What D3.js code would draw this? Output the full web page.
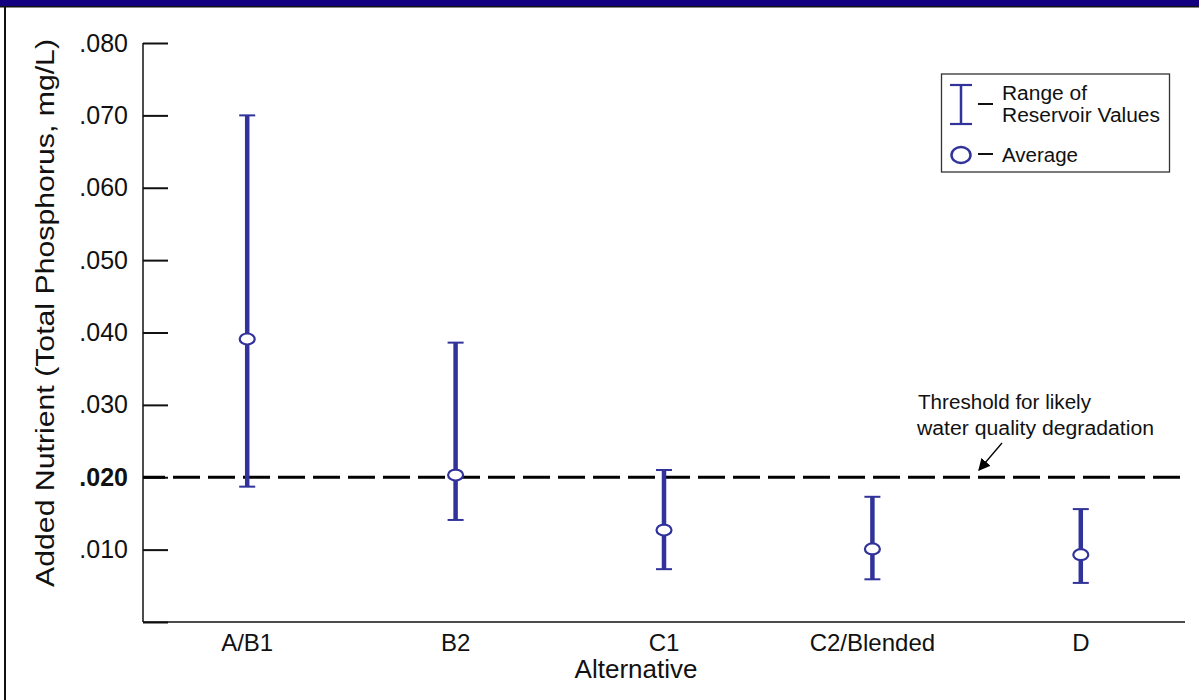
<!DOCTYPE html>
<html>
<head>
<meta charset="utf-8">
<script src="https://cdn.jsdelivr.net/npm/d3@7"></script>
<style>
  body { margin: 0; background: #fff; }
  text { font-family: "Liberation Sans", Arial, sans-serif; fill: #111; }
</style>
</head>
<body>
<div id="chart"></div>
<script>
// values
const categories = ["A/B1", "B2", "C1", "C2/Blended", "D"];
const maxValues = [0.0700, 0.0386, 0.0210, 0.0173, 0.0156];
const minValues = [0.0187, 0.0141, 0.0073, 0.0059, 0.0054];
const avgValues = [0.0391, 0.0203, 0.0127, 0.0101, 0.0093];
const threshold = 0.020;
const yTickValues = [0, 0.01, 0.02, 0.03, 0.04, 0.05, 0.06, 0.07, 0.08];
const yTickLabels = ["", ".010", ".020", ".030", ".040", ".050", ".060", ".070", ".080"];

const rows = categories.map((c, i) => ({
  cat: c, max: maxValues[i], min: minValues[i], avg: avgValues[i]
}));

const width = 1199, height = 700;
const blue = "#31339a";
const margin = { left: 143, right: 14, top: 43, bottom: 78 };

const svg = d3.select("#chart").append("svg")
  .attr("width", width)
  .attr("height", height);

// frame: navy band on top, black rule on the left
svg.append("rect").attr("x", 0).attr("y", 0).attr("width", width).attr("height", 6).attr("fill", "#130080");
svg.append("rect").attr("x", 0).attr("y", 6).attr("width", width).attr("height", 1.5).attr("fill", "#111");
svg.append("rect").attr("x", 4).attr("y", 6).attr("width", 2).attr("height", height).attr("fill", "#111");

const x = d3.scaleBand()
  .domain(categories)
  .range([margin.left, width - margin.right])
  .padding(0);

const y = d3.scaleLinear()
  .domain([0, 0.08])
  .range([height - margin.bottom, margin.top]);

// y axis, ticks pointing inward
const yAxis = d3.axisLeft(y)
  .tickValues(yTickValues)
  .tickFormat((d, i) => yTickLabels[i])
  .tickSize(-25)
  .tickPadding(15);

const yAxisG = svg.append("g")
  .attr("transform", `translate(${margin.left},0)`)
  .call(yAxis);
yAxisG.select(".domain").remove();
yAxisG.selectAll(".tick line").attr("stroke", "#111").attr("stroke-width", 2);
yAxisG.selectAll(".tick text")
  .style("font-size", "25px")
  .style("font-family", "'Liberation Sans', Arial, sans-serif")
  .attr("fill", "#111")
  .style("font-weight", d => d === threshold ? "bold" : "normal");

yAxisG.append("line")
  .attr("x1", 0).attr("x2", 0)
  .attr("y1", y(0.08)).attr("y2", y(0))
  .attr("stroke", "#111").attr("stroke-width", 1.5);

// x axis
const xAxis = d3.axisBottom(x).tickSize(0).tickPadding(12);
const xAxisG = svg.append("g")
  .attr("transform", `translate(0,${y(0)})`)
  .call(xAxis);
xAxisG.select(".domain").remove();
xAxisG.append("line")
  .attr("x1", margin.left).attr("x2", width - margin.right)
  .attr("stroke", "#111").attr("stroke-width", 1.5);
xAxisG.selectAll(".tick text")
  .style("font-size", "24px")
  .style("font-family", "'Liberation Sans', Arial, sans-serif")
  .attr("fill", "#111");

// axis titles
svg.append("text")
  .attr("x", 636)
  .attr("y", 678)
  .attr("text-anchor", "middle")
  .style("font-size", "26px")
  .text("Alternative");

svg.append("text")
  .attr("transform", "translate(54,313) rotate(-90)")
  .attr("text-anchor", "middle")
  .attr("textLength", 548)
  .attr("lengthAdjust", "spacingAndGlyphs")
  .style("font-size", "25px")
  .text("Added Nutrient (Total Phosphorus, mg/L)");

// threshold line
svg.append("line")
  .attr("x1", margin.left).attr("x2", width - margin.right)
  .attr("y1", y(threshold)).attr("y2", y(threshold))
  .attr("stroke", "#000")
  .attr("stroke-width", 3)
  .attr("stroke-dasharray", "27 8")
  .attr("stroke-dashoffset", 5);

// range bars
const bars = svg.append("g").selectAll("g")
  .data(rows)
  .join("g")
  .attr("transform", d => `translate(${x(d.cat) + x.bandwidth() / 2},0)`);

bars.append("line")
  .attr("y1", d => y(d.max)).attr("y2", d => y(d.min))
  .attr("stroke", blue).attr("stroke-width", 4.5);

bars.selectAll(".cap")
  .data(d => [d.max, d.min])
  .join("line")
  .attr("class", "cap")
  .attr("x1", -8).attr("x2", 8)
  .attr("y1", v => y(v)).attr("y2", v => y(v))
  .attr("stroke", blue).attr("stroke-width", 2);

bars.append("ellipse")
  .attr("cy", d => y(d.avg))
  .attr("rx", 7.5).attr("ry", 5.5)
  .attr("fill", "#fff")
  .attr("stroke", blue).attr("stroke-width", 2.2);

// annotation
svg.append("defs").append("marker")
  .attr("id", "arrow")
  .attr("viewBox", "0 0 10 10")
  .attr("refX", 9).attr("refY", 5)
  .attr("markerWidth", 12).attr("markerHeight", 12)
  .attr("markerUnits", "userSpaceOnUse")
  .attr("orient", "auto")
  .append("path")
  .attr("d", "M0,0 L10,5 L0,10 z")
  .attr("fill", "#000");

svg.append("text").attr("x", 918).attr("y", 409)
  .attr("textLength", 173).attr("lengthAdjust", "spacingAndGlyphs")
  .style("font-size", "19.5px").text("Threshold for likely");
svg.append("text").attr("x", 917).attr("y", 435)
  .attr("textLength", 237).attr("lengthAdjust", "spacingAndGlyphs")
  .style("font-size", "19.5px").text("water quality degradation");
svg.append("line")
  .attr("x1", 1002).attr("y1", 443)
  .attr("x2", 979).attr("y2", 470)
  .attr("stroke", "#000").attr("stroke-width", 1.3)
  .attr("marker-end", "url(#arrow)");

// legend
const lg = svg.append("g");
lg.append("rect")
  .attr("x", 941.5).attr("y", 74)
  .attr("width", 228).attr("height", 98)
  .attr("fill", "#fff").attr("stroke", "#333").attr("stroke-width", 1.3);
lg.append("line").attr("x1", 961).attr("x2", 961).attr("y1", 85).attr("y2", 124)
  .attr("stroke", blue).attr("stroke-width", 2.5);
[85, 124].forEach(v => lg.append("line")
  .attr("x1", 950).attr("x2", 972).attr("y1", v).attr("y2", v)
  .attr("stroke", blue).attr("stroke-width", 2.2));
lg.append("line").attr("x1", 978).attr("x2", 993).attr("y1", 104).attr("y2", 104)
  .attr("stroke", "#111").attr("stroke-width", 2);
lg.append("text").attr("x", 1002).attr("y", 100)
  .attr("textLength", 85).attr("lengthAdjust", "spacingAndGlyphs")
  .style("font-size", "19.5px").text("Range of");
lg.append("text").attr("x", 1002).attr("y", 122)
  .attr("textLength", 158).attr("lengthAdjust", "spacingAndGlyphs")
  .style("font-size", "19.5px").text("Reservoir Values");
lg.append("ellipse").attr("cx", 961).attr("cy", 155).attr("rx", 9.5).attr("ry", 8)
  .attr("fill", "#fff").attr("stroke", blue).attr("stroke-width", 2.5);
lg.append("line").attr("x1", 978).attr("x2", 993).attr("y1", 154).attr("y2", 154)
  .attr("stroke", "#111").attr("stroke-width", 2);
lg.append("text").attr("x", 1002).attr("y", 162)
  .attr("textLength", 76).attr("lengthAdjust", "spacingAndGlyphs")
  .style("font-size", "19.5px").text("Average");
</script>
</body>
</html>
